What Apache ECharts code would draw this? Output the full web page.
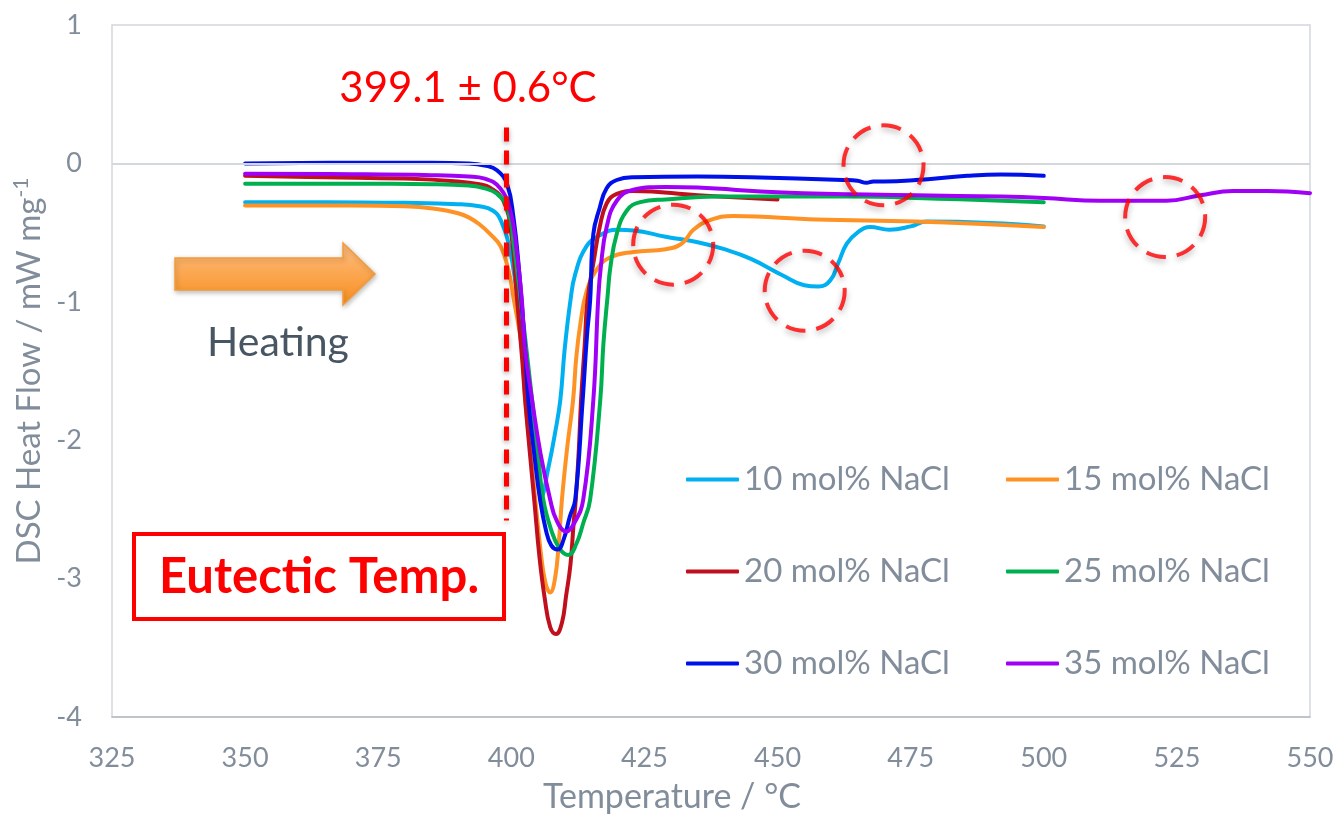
<!DOCTYPE html>
<html>
<head>
<meta charset="utf-8">
<title>DSC heating curves</title>
<script src="https://cdn.jsdelivr.net/npm/echarts@6/dist/echarts.min.js"></script>
<style>
  html, body { margin: 0; padding: 0; background: #ffffff; }
  #chart { width: 1337px; height: 817px; }
</style>
</head>
<body>
<div id="chart"></div>
<script>
// ---- DSC heat flow (mW/mg) versus temperature (°C), heating runs ----
const nacl10 = [
  [350,-0.28],[365,-0.28],[380,-0.285],[390,-0.295],[394,-0.31],[396.5,-0.34],[398,-0.41],
  [399.5,-0.58],[401,-0.92],[402.5,-1.35],[403.8,-1.85],[404.8,-2.2],[405.6,-2.41],
  [407,-2.19],[408.2,-1.95],[409.2,-1.71],[410,-1.35],[411.1,-0.99],[412,-0.8],[414.1,-0.6],
  [416.6,-0.52],[419.8,-0.48],[423,-0.485],[429,-0.53],[435,-0.57],[440,-0.62],[445,-0.69],
  [451,-0.81],[455,-0.88],[457.7,-0.89],[459.9,-0.845],[461.4,-0.72],[463,-0.58],[465,-0.5],
  [467.4,-0.46],[471,-0.48],[475,-0.455],[478,-0.42],[490,-0.43],[500,-0.455]
];
const nacl15 = [
  [350,-0.305],[370,-0.305],[380,-0.31],[386,-0.33],[390,-0.36],[392,-0.39],[394,-0.44],
  [396,-0.51],[398,-0.6],[399.5,-0.78],[400.5,-0.99],[402,-1.34],[402.6,-1.71],[403.5,-2.05],
  [404.5,-2.43],[405.5,-2.8],[406.4,-3.03],[407.3,-3.10],[408.2,-3.0],[408.9,-2.75],
  [409.5,-2.43],[410.5,-2.05],[411.6,-1.71],[412.2,-1.4],[413,-1.15],[414.1,-0.93],
  [416,-0.77],[418.5,-0.68],[423,-0.64],[429,-0.62],[432,-0.58],[434.2,-0.48],[437.3,-0.41],
  [441.7,-0.38],[457.4,-0.405],[476,-0.42],[500,-0.46]
];
const nacl20 = [
  [350,-0.09],[365,-0.1],[380,-0.11],[390,-0.13],[394,-0.15],[396,-0.175],[398.5,-0.27],
  [400,-0.51],[401,-0.95],[402,-1.4],[402.6,-1.71],[403.5,-2.1],[404.3,-2.43],[405.3,-2.85],
  [406.3,-3.15],[407.3,-3.35],[408.4,-3.40],[409.5,-3.32],[410.3,-3.12],[411.1,-2.9],
  [411.7,-2.6],[412.1,-2.43],[412.7,-2.05],[413.1,-1.71],[413.8,-1.3],[414.3,-0.99],
  [415.5,-0.7],[416.6,-0.46],[417.9,-0.29],[419.8,-0.22],[423,-0.2],[435,-0.23],[450,-0.26]
];
const nacl25 = [
  [350,-0.147],[370,-0.147],[385,-0.15],[392,-0.16],[395,-0.18],[397.3,-0.22],[399.2,-0.32],
  [400.6,-0.63],[401.8,-1.0],[403,-1.4],[403.9,-1.71],[405,-2.1],[406,-2.43],[407.5,-2.65],
  [409,-2.78],[410.7,-2.83],[412.2,-2.75],[413.5,-2.6],[414.8,-2.43],[416.7,-1.71],
  [417.3,-1.3],[418.1,-0.95],[418.6,-0.75],[419.8,-0.51],[421.7,-0.34],[424.2,-0.28],
  [429,-0.26],[438.6,-0.24],[463.7,-0.24],[480,-0.255],[500,-0.28]
];
const nacl30 = [
  [350,0.0],[370,0.005],[385,0.005],[392,0.0],[395,-0.015],[397.3,-0.05],[399.2,-0.15],
  [400.4,-0.39],[401.4,-0.75],[402.6,-1.35],[403.2,-1.71],[404.3,-2.1],[405.4,-2.43],
  [406.5,-2.65],[407.5,-2.76],[408.7,-2.79],[409.8,-2.72],[411,-2.55],[412,-2.43],
  [413.4,-1.71],[414.2,-1.25],[414.8,-0.99],[415.4,-0.51],[416.6,-0.32],[417.9,-0.18],
  [419.8,-0.12],[423,-0.10],[435,-0.095],[445,-0.10],[462.3,-0.12],[465,-0.125],
  [466.7,-0.14],[468,-0.13],[470,-0.13],[476,-0.12],[485.6,-0.09],[492,-0.08],[500,-0.09]
];
const nacl35 = [
  [350,-0.075],[370,-0.078],[385,-0.085],[392,-0.095],[395,-0.11],[397.9,-0.18],[399.8,-0.34],
  [401,-0.63],[402,-1.0],[402.6,-1.35],[403.9,-1.71],[405.5,-2.1],[407.3,-2.43],[408.5,-2.58],
  [410.3,-2.66],[411.8,-2.6],[413.5,-2.43],[415.4,-1.71],[416.3,-0.99],[416.8,-0.75],
  [417.9,-0.46],[419.8,-0.27],[422.9,-0.19],[429,-0.17],[435,-0.175],[451,-0.21],[476,-0.23],
  [492,-0.24],[500,-0.25],[510.6,-0.27],[523,-0.27],[529.4,-0.23],[535.6,-0.20],[542,-0.2],
  [550,-0.215]
];

const seriesNames  = ['10 mol% NaCl','15 mol% NaCl','20 mol% NaCl','25 mol% NaCl','30 mol% NaCl','35 mol% NaCl'];
const seriesData   = [nacl10, nacl15, nacl20, nacl25, nacl30, nacl35];
const seriesColors = ['#00B0F0','#FF9224','#C0101E','#00B050','#0010E8','#A000F5'];

// eutectic temperature marker and highlighted thermal events
const eutecticT = 399.1;
const eutecticSpan = [0.26, -2.58];
const eventCenters = [[430.4,-0.587],[455.1,-0.92],[469.9,-0.014],[522.8,-0.388]];

const FONT = 'Lato, "Open Sans", sans-serif';
const GREY = '#828d9b';

const chart = echarts.init(document.getElementById('chart'), null, { renderer: 'canvas' });

const curves = seriesNames.map((name, i) => ({
  name,
  type: 'line',
  data: seriesData[i],
  smooth: 0.45,
  symbol: 'none',
  silent: true,
  z: 3,
  lineStyle: { color: seriesColors[i], width: 4, cap: 'round', join: 'round' },
  itemStyle: { color: seriesColors[i] }
}));

const legendBase = {
  orient: 'vertical', top: 457,
  icon: 'roundRect', itemWidth: 53, itemHeight: 4, itemGap: 57,
  textStyle: { color: GREY, fontFamily: FONT, fontSize: 33, lineHeight: 35 },
  selectedMode: false
};

const option = {
  backgroundColor: '#ffffff',
  animation: false,
  grid: {
    left: 112, right: 27, top: 25, bottom: 100,
    outerBoundsMode: 'none',
    show: true, borderColor: '#d2d6db', borderWidth: 1.5, backgroundColor: 'transparent'
  },
  xAxis: {
    type: 'value', min: 325, max: 550, interval: 25,
    name: 'Temperature / °C', nameLocation: 'middle', nameGap: 63,
    nameTextStyle: { color: GREY, fontFamily: FONT, fontSize: 34, padding: [0, 78, 0, 0] },
    axisLine: { show: true, onZero: false, lineStyle: { color: '#b4bac2', width: 1.5 } },
    axisTick: { show: false },
    splitLine: { show: false },
    axisLabel: { color: GREY, fontFamily: FONT, fontSize: 27, margin: 28 }
  },
  yAxis: {
    type: 'value', min: -4, max: 1, interval: 1,
    name: '{t|DSC Heat Flow / mW mg}{s|-1}', nameLocation: 'middle', nameGap: 62,
    nameRotate: 90,
    nameTextStyle: {
      color: GREY, fontFamily: FONT, fontSize: 33,
      rich: {
        t: { color: GREY, fontFamily: FONT, fontSize: 33, lineHeight: 37 },
        s: { color: GREY, fontFamily: FONT, fontSize: 21, verticalAlign: 'top', lineHeight: 37 }
      }
    },
    axisLine: { show: false },
    axisTick: { show: false },
    splitLine: { show: false },
    axisLabel: { color: GREY, fontFamily: FONT, fontSize: 27, margin: 30 }
  },
  legend: [
    Object.assign({ data: [seriesNames[0], seriesNames[2], seriesNames[4]], left: 681 }, legendBase),
    Object.assign({ data: [seriesNames[1], seriesNames[3], seriesNames[5]], left: 1001 }, legendBase)
  ],
  series: [
    // zero reference line beneath the curves
    {
      type: 'line', data: [], silent: true, z: 1,
      markLine: {
        silent: true, symbol: 'none', label: { show: false },
        lineStyle: { color: '#d4d7db', width: 2, type: 'solid' },
        data: [{ yAxis: 0 }]
      }
    },
    ...curves,
    // dashed eutectic marker drawn over the curves
    {
      type: 'line', data: [], silent: true, z: 6,
      markLine: {
        silent: true, symbol: 'none', label: { show: false },
        lineStyle: {
          color: '#FF0000', width: 5, type: [14, 9],
          shadowColor: 'rgba(0,0,0,0.35)', shadowBlur: 5, shadowOffsetY: 2
        },
        data: [[{ coord: [eutecticT, eutecticSpan[0]] }, { coord: [eutecticT, eutecticSpan[1]] }]]
      }
    },
    // dashed circles around the secondary thermal events
    {
      type: 'scatter', data: eventCenters, silent: true, z: 6,
      symbol: 'circle', symbolSize: 80,
      itemStyle: {
        color: 'rgba(0,0,0,0)', borderColor: '#FF0000', borderWidth: 4, borderType: [20, 11],
        shadowColor: 'rgba(0,0,0,0.35)', shadowBlur: 6, shadowOffsetY: 3
      }
    }
  ],
  // annotations: eutectic value, heating arrow, label box
  graphic: [
    {
      type: 'text', silent: true, z: 10,
      style: {
        x: 468, y: 88, text: '399.1 ± 0.6°C', fill: '#FF0000',
        font: '42px ' + FONT, textAlign: 'center', textVerticalAlign: 'middle'
      }
    },
    {
      type: 'polygon', silent: true, z: 10,
      shape: { points: [[175,258],[343,258],[343,243],[375,274],[343,305],[343,290],[175,290]] },
      style: {
        fill: new echarts.graphic.LinearGradient(0, 0, 0, 1, [
          { offset: 0, color: '#FFBE82' }, { offset: 1, color: '#F78F1E' }
        ]),
        stroke: '#F39A3A', lineWidth: 1.5,
        shadowColor: 'rgba(0,0,0,0.25)', shadowBlur: 5, shadowOffsetX: 1, shadowOffsetY: 2
      }
    },
    {
      type: 'text', silent: true, z: 10,
      style: {
        x: 278, y: 343, text: 'Heating', fill: '#485563',
        font: '41px ' + FONT, textAlign: 'center', textVerticalAlign: 'middle'
      }
    },
    {
      type: 'rect', silent: true, z: 10,
      shape: { x: 134, y: 534, width: 370, height: 85 },
      style: { fill: '#ffffff', stroke: '#FF0000', lineWidth: 4 }
    },
    {
      type: 'text', silent: true, z: 11,
      style: {
        x: 319, y: 577, text: 'Eutectic Temp.', fill: '#FF0000',
        font: 'bold 49px ' + FONT, textAlign: 'center', textVerticalAlign: 'middle'
      }
    }
  ]
};

chart.setOption(option);
</script>
</body>
</html>
